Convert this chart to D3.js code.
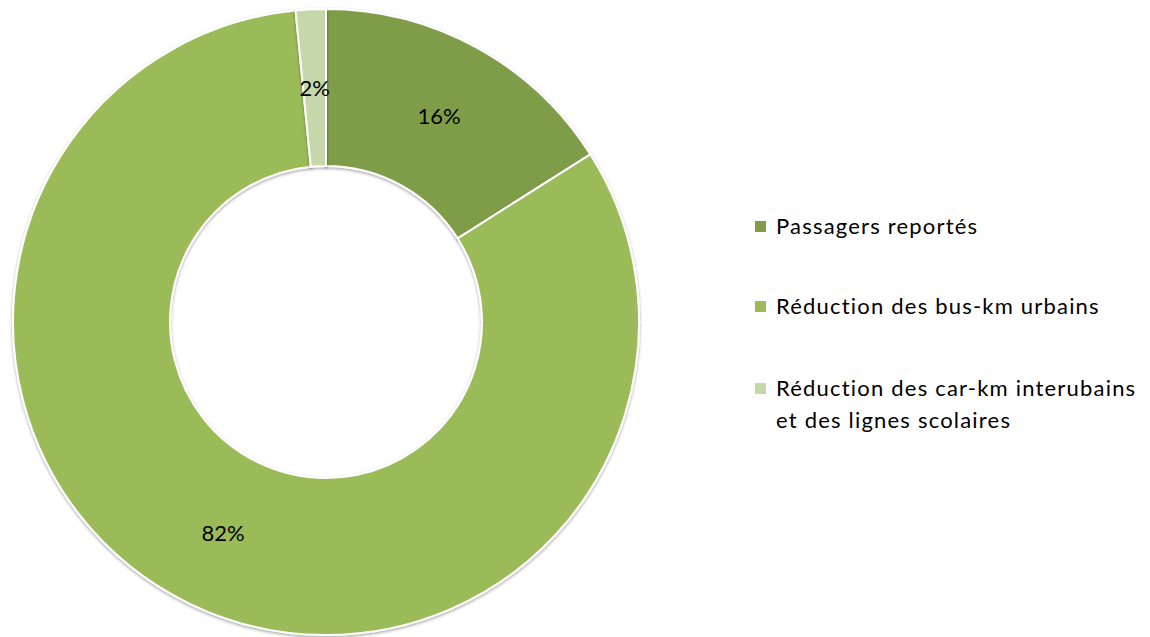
<!DOCTYPE html>
<html><head><meta charset="utf-8">
<script src="https://cdn.jsdelivr.net/npm/d3@7"></script>
<style>body{margin:0;background:#fff}svg{display:block}</style>
</head><body>
<svg id="c" width="1150" height="637"></svg>
<script>
const categories = ["Passagers reportés", "Réduction des bus-km urbains", "Réduction des car-km interubains et des lignes scolaires"];
const legendLines = [["Passagers reportés"], ["Réduction des bus-km urbains"], ["Réduction des car-km interubains", "et des lignes scolaires"]];
const values = [16.0, 82.45, 1.55];
const colors = ["#7F9C4A", "#9BBB59", "#C6D7AB"];

const svg = d3.select("#c");
const cx = 326, cy = 322, rOut = 313, rIn = 156;

const defs = svg.append("defs");
const f = defs.append("filter").attr("id","sh").attr("x","-10%").attr("y","-10%").attr("width","120%").attr("height","120%");
f.append("feDropShadow").attr("dx",0).attr("dy",1.5).attr("stdDeviation",1.5).attr("flood-color","#000").attr("flood-opacity",0.35);

const pie = d3.pie().sort(null).value(d => d);
const arc = d3.arc().innerRadius(rIn).outerRadius(rOut);
const arcs = pie(values);
const g = svg.append("g").attr("transform", `translate(${cx},${cy})`);
g.selectAll("path").data(arcs).join("path")
  .attr("d", arc)
  .attr("fill", (d,i) => colors[i])
  .attr("stroke", "#fff").attr("stroke-width", 2)
  .attr("filter", "url(#sh)");

g.selectAll("text").data(arcs).join("text")
  .attr("transform", d => { const c = arc.centroid(d); return `translate(${c[0]},${c[1]})`; })
  .attr("text-anchor", "middle").attr("dy", "0.36em")
  .style("font-family", "Lato, 'Open Sans', sans-serif").style("font-size", "22px").attr("fill", "#000")
  .text(d => Math.round(d.data) + "%");

const legY = [227, 307, 389];
const lg = svg.append("g");
categories.forEach((c, i) => {
  lg.append("rect").attr("x", 755).attr("y", legY[i] - 6).attr("width", 11).attr("height", 11).attr("fill", colors[i]);
  const t = lg.append("text").attr("x", 776).attr("y", legY[i] + 7)
    .style("font-family", "Lato, 'Open Sans', sans-serif").style("font-size", "22px")
    .style("letter-spacing", "1.2px").attr("fill", "#000");
  legendLines[i].forEach((l, j) => t.append("tspan").attr("x", 776).attr("dy", j === 0 ? 0 : 32).text(l));
});
</script>
</body></html>
